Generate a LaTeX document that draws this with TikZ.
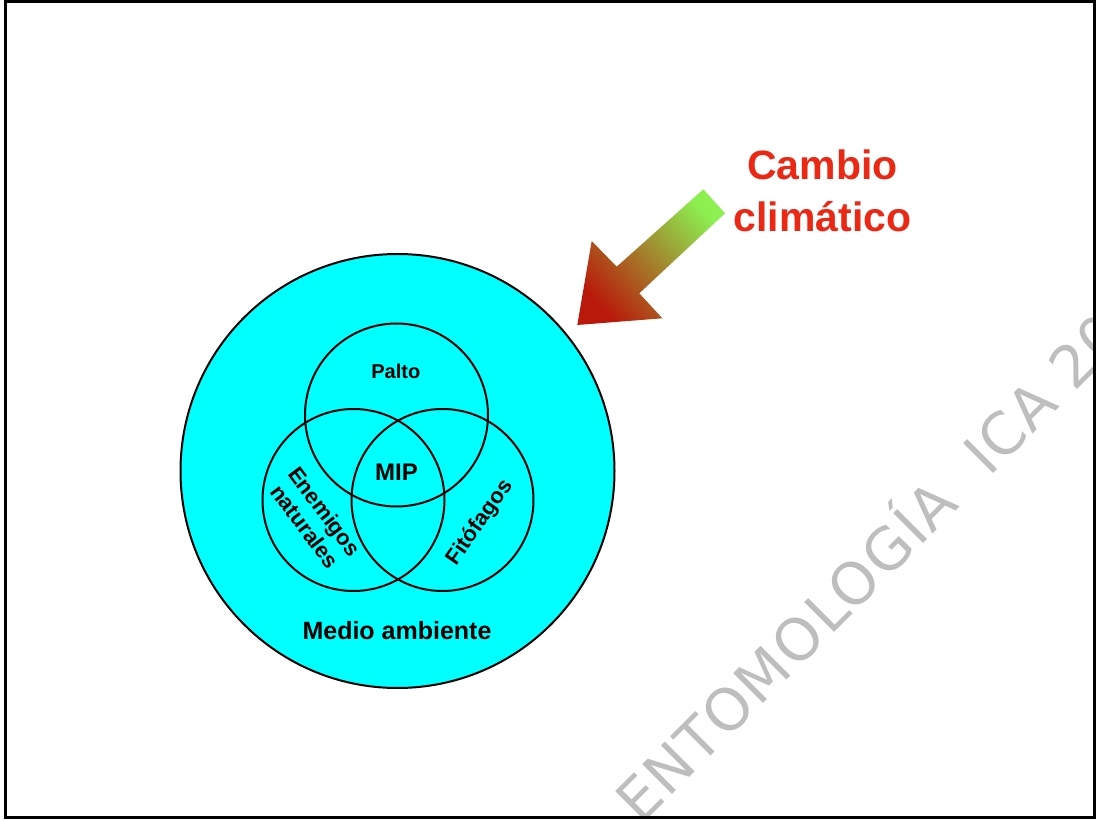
\documentclass[tikz,border=0pt]{standalone}
\usepackage{fontspec}
\setmainfont{Liberation Sans}
\newfontfamily\wmfont[LetterSpace=3]{DejaVu Sans}
\definecolor{envcyan}{RGB}{0,255,255}
\definecolor{ccred}{RGB}{236,40,20}
\definecolor{arrowred}{RGB}{185,25,10}
\definecolor{arrowgreen}{RGB}{140,240,80}
\definecolor{wmgray}{RGB}{190,190,190}
\tikzset{
  ring/.style={draw=black, line width=2pt},
  lbl/.style={font=\bfseries, inner sep=0pt, text=black},
}
\begin{document}
\begin{tikzpicture}[x=1pt,y=1pt]
\useasboundingbox (0,0) rectangle (1096,820);
\fill[white] (0,0) rectangle (1096,820);
% watermark
\begin{scope}
\clip (5.5,2.5) rectangle (1094.5,818.5);
\node[anchor=base west, rotate=45, inner sep=0pt, text=wmgray,
      font=\wmfont\fontsize{58}{64}\selectfont] (wm) at (641,-6)
      {ENTOMOLOG\'IA~~ICA 20};
\end{scope}
% environment circle
\node[ring, circle, fill=envcyan, minimum size=434pt, inner sep=0pt] (env) at (397.5,349) {};
% venn circles
\node[ring, circle, minimum size=183pt, inner sep=0pt] (palto) at (396.5,405) {};
\node[ring, circle, minimum size=182pt, inner sep=0pt] (enem) at (353.5,320) {};
\node[ring, circle, minimum size=182pt, inner sep=0pt] (fito) at (442.5,320) {};
% labels
\node[lbl, anchor=base, font=\bfseries\fontsize{20}{24}\selectfont] (tpalto) at (395.8,441.7) {Palto};
\node[lbl, anchor=base, font=\bfseries\fontsize{24}{28}\selectfont] (tmip) at (396.5,339.3) {MIP};
\node[lbl, rotate=-53, align=center, font=\bfseries\fontsize{22}{25}\selectfont] (tenem) at (315,301) {Enemigos\\naturales};
\node[lbl, rotate=55, font=\bfseries\fontsize{22}{26}\selectfont] (tfito) at (480,297) {Fit\'ofagos};
\node[lbl, anchor=base, font=\bfseries\fontsize{25}{30}\selectfont] (tmedio) at (397,180.7) {Medio ambiente};
% climate change
\node[lbl, anchor=base, text=ccred, font=\bfseries\fontsize{41}{50}\selectfont] (tcambio) at (822.5,640) {Cambio};
\node[lbl, anchor=base, text=ccred, font=\bfseries\fontsize{41}{50}\selectfont] (tclima) at (822.5,588.3) {clim\'atico};
% arrow
\coordinate (a1) at (703.3,630.7);
\coordinate (a2) at (725,606.7);
\coordinate (a3) at (639.3,526.7);
\coordinate (a4) at (662.3,501.7);
\coordinate (a5) at (577.3,495);
\coordinate (a6) at (591.7,579);
\coordinate (a7) at (616.7,553.3);
\shade[top color=arrowgreen, bottom color=arrowred, shading angle=-48]
  (a1) -- (a2) -- (a3) -- (a4) -- (a5) -- (a6) -- (a7) -- cycle;
% frame
\draw[line width=2.5pt, black] (5.5,2.5) rectangle (1094.5,818.5);
\end{tikzpicture}
\end{document}
